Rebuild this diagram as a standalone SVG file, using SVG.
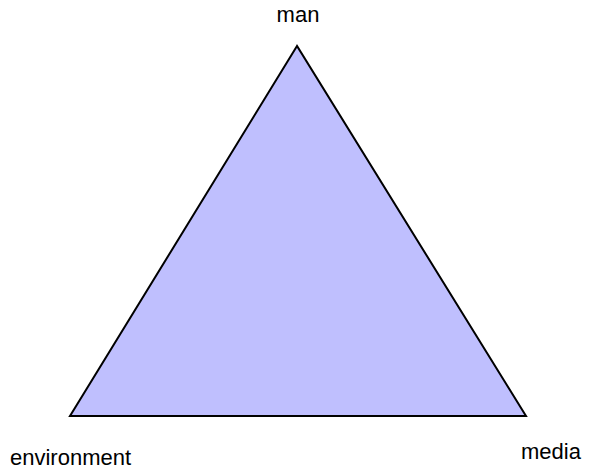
<svg xmlns="http://www.w3.org/2000/svg" width="591" height="470" viewBox="0 0 591 470">
<style>
.lbl{font-family:"Liberation Sans",Arial,sans-serif;font-size:22px;fill:#000}
.tri{fill:#bfbffe;stroke:#000;stroke-width:2;stroke-linejoin:miter}
</style>
<rect width="591" height="470" fill="#fff"/>
<g id="triangle"><polygon class="tri" points="297,46 70,416 526,416"/></g>
<g id="man"><text class="lbl" x="298" y="22" text-anchor="middle">man</text></g>
<g id="environment"><text class="lbl" x="10" y="465">environment</text></g>
<g id="media"><text class="lbl" x="521" y="459">media</text></g>
<g id="connectors"></g>
</svg>
